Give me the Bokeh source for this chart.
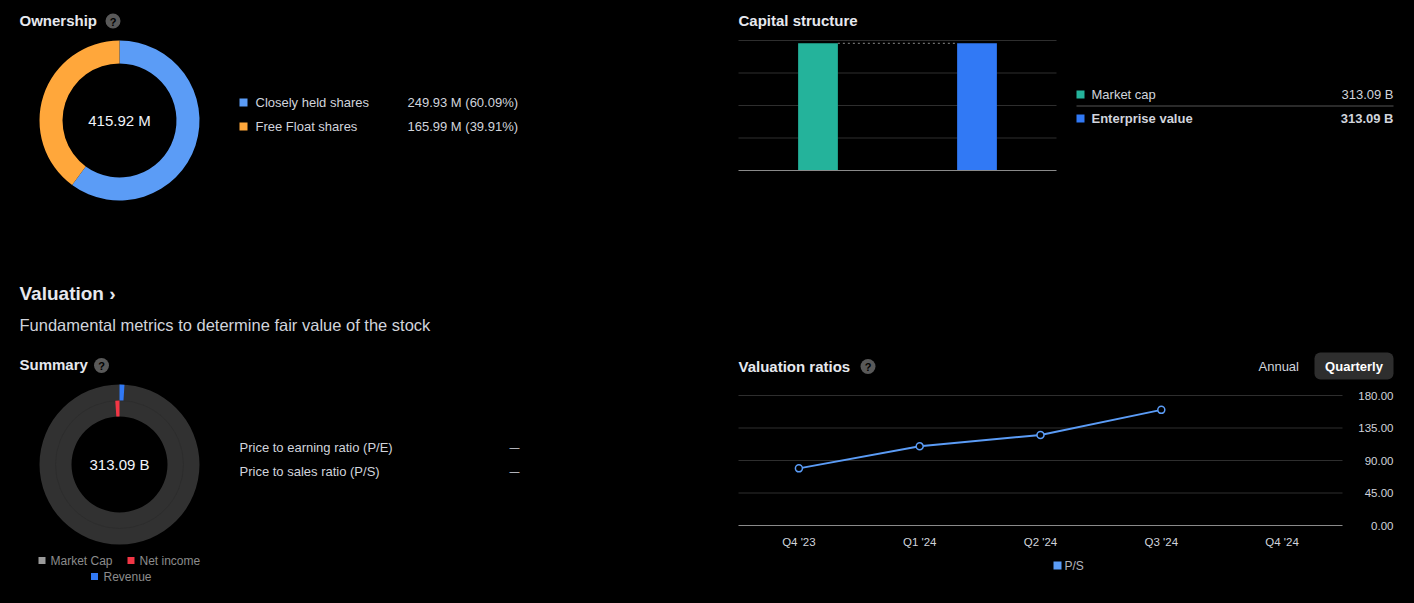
import math
from bokeh.plotting import figure
from bokeh.models import Range1d
from bokeh.core.properties import value
from bokeh.embed import file_html
from bokeh.resources import INLINE

# ---------------- data ----------------
own_labels = ["Closely held shares", "Free Float shares"]
own_values = [249.93, 165.99]          # millions of shares
own_colors = ["#5b9cf6", "#ffa73b"]

cap_labels = ["Market cap", "Enterprise value"]
cap_values = [313.09, 313.09]          # billions
cap_colors = ["#24b39b", "#3179f5"]
cap_ticks = [0, 80, 160, 240, 320]

sum_market_cap = 313.09                # billions
sum_revenue = 3.1                      # billions (estimated from slice)
sum_net_income = -3.3                  # billions (estimated from slice)
sum_legend = ["Market Cap", "Net income", "Revenue"]
sum_legend_colors = ["#9a9a9a", "#f23645", "#3179f5"]
ratio_labels = ["Price to earning ratio (P/E)", "Price to sales ratio (P/S)"]
ratio_values = ["—", "—"]

quarters = ["Q4 '23", "Q1 '24", "Q2 '24", "Q3 '24", "Q4 '24"]
ps_values = [79.1, 109.6, 125.4, 160.1, float("nan")]
ps_ticks = [0, 45, 90, 135, 180]

# ---------------- style ----------------
W, H = 1414, 603
BG = "#000000"
TXT = "#d1d4dc"
TITLE = "#e6e8ee"
DIM = "#8c8c8c"
FONT = "Liberation Sans"
GRID = "#2e2e2e"
BASE = "#8a8a8a"


def xmap(d0, d1, a, b):
    """x range so that data d0..d1 lands on canvas pixels a..b"""
    s = (d1 - d0) / (b - a)
    return Range1d(d0 - a * s, d0 + (W - a) * s)


def ymap(d0, d1, pb, pt):
    """y range so that data d0 lands on canvas pixel pb and d1 on pt (pixels counted downward)"""
    s = (d1 - d0) / (pb - pt)
    return Range1d(d0 - (H - pb) * s, d0 + pb * s)


p = figure(width=W, height=H, x_range=Range1d(0, W), y_range=Range1d(H, 0),
           x_axis_location=None, y_axis_location=None, toolbar_location=None,
           output_backend="svg", min_border=0, outline_line_color=None,
           background_fill_color=BG, border_fill_color=BG)
p.grid.visible = False
p.styles = {"background-color": BG}

# chart plot areas (data -> pixel areas)
p.extra_x_ranges = {"cap_x": xmap(0, len(cap_labels), 738, 1056),
                    "val_x": xmap(0, len(quarters), 738, 1342)}
p.extra_y_ranges = {"cap_y": ymap(cap_ticks[0], cap_ticks[-1], 170, 40),
                    "val_y": ymap(ps_ticks[0], ps_ticks[-1], 525, 395)}


def txt(x, y, s, size="13px", color=TXT, bold=False, align="left", **kw):
    p.text(x=[x] if not isinstance(x, list) else x, y=[y] if not isinstance(y, list) else y,
           text=[s] if not isinstance(s, list) else s, text_font=value(FONT), text_font_size=size,
           text_font_style="bold" if bold else "normal", text_color=color,
           text_align=align, text_baseline="middle", **kw)


def qicon(x, y):
    p.circle(x=[x], y=[y], radius=7.5, fill_color="#595959", line_color=None)
    txt(x, y + 0.5, "?", size="11px", color=BG, bold=True, align="center")


# ================= Ownership =================
txt(19, 20, "Ownership", size="15px", color=TITLE, bold=True)
qicon(112.5, 20.5)
own_total = sum(own_values)
start = math.pi / 2
for v, c in zip(own_values, own_colors):
    end = start - v / own_total * 2 * math.pi
    p.annular_wedge(x=[119], y=[120], inner_radius=57, outer_radius=80,
                    start_angle=[start], end_angle=[end], direction="clock",
                    fill_color=c, line_color=None)
    start = end
txt(119, 120, f"{own_total:.2f} M", size="15px", color="#f0f3fa", align="center")
for i, (lab, v, c) in enumerate(zip(own_labels, own_values, own_colors)):
    yy = 102 + 24 * i
    p.rect(x=[243], y=[yy], width=8, height=8, fill_color=c, line_color=None)
    txt(255, yy, lab)
    txt(407, yy, f"{v:.2f} M ({v / own_total * 100:.2f}%)")

# ================= Valuation header / Summary =================
txt(19, 293, "Valuation ›", size="19px", color=TITLE, bold=True)
txt(19, 324, "Fundamental metrics to determine fair value of the stock", size="16.5px", color=TXT)

txt(19, 364, "Summary", size="15px", color=TITLE, bold=True)
qicon(101, 365)
cx, cy = 119, 464
p.annulus(x=[cx], y=[cy], inner_radius=48, outer_radius=80, fill_color="#313131", line_color=None)
p.circle(x=[cx], y=[cy], radius=64, fill_color=None, line_color="#2d2d2d", line_width=1)
rev_ang = sum_revenue / sum_market_cap * 2 * math.pi
p.annular_wedge(x=[cx], y=[cy], inner_radius=64, outer_radius=80,
                start_angle=[math.pi / 2], end_angle=[math.pi / 2 - rev_ang], direction="clock",
                fill_color=sum_legend_colors[2], line_color=None)
ni_ang = abs(sum_net_income) / sum_market_cap * 2 * math.pi
p.annular_wedge(x=[cx], y=[cy], inner_radius=48, outer_radius=64,
                start_angle=[math.pi / 2], end_angle=[math.pi / 2 + ni_ang], direction="anticlock",
                fill_color=sum_legend_colors[1], line_color=None)
txt(cx, cy, f"{sum_market_cap:.2f} B", size="15px", color="#f0f3fa", align="center")

for i, (lab, vv) in enumerate(zip(ratio_labels, ratio_values)):
    yy = 447 + 23.5 * i
    txt(239, yy, lab)
    txt(519, yy, vv, size="10px", align="right")

leg_pos = [(41.5, 560, 50), (130.5, 560, 139), (94, 576, 103)]
for (sx, sy, tx), lab, c in zip(leg_pos, sum_legend, sum_legend_colors):
    p.rect(x=[sx], y=[sy], width=7, height=7, fill_color=c, line_color=None)
    txt(tx, sy, lab, size="12px", color=DIM)

# ================= Capital structure =================
txt(738, 20, "Capital structure", size="15px", color=TITLE, bold=True)
p.segment(x0=[738] * 4, x1=[1056] * 4, y0=cap_ticks[1:], y1=cap_ticks[1:],
          y_range_name="cap_y", line_color=GRID, line_width=1)
cap_pos = [i + 0.5 for i in range(len(cap_labels))]
p.vbar(x=cap_pos, top=cap_values, bottom=0, width=0.25, fill_color=cap_colors, line_color=None,
       x_range_name="cap_x", y_range_name="cap_y")
p.segment(x0=[cap_pos[0] + 0.125], y0=[cap_values[0]], x1=[cap_pos[1] - 0.125], y1=[cap_values[0]],
          line_color=BASE, line_dash="2 3", line_width=1, x_range_name="cap_x", y_range_name="cap_y")
p.segment(x0=[738], x1=[1056], y0=[cap_ticks[0]], y1=[cap_ticks[0]], y_range_name="cap_y",
          line_color=BASE, line_width=1.2)

for i, (lab, v, c) in enumerate(zip(cap_labels, cap_values, cap_colors)):
    yy = 94 + 24 * i
    p.rect(x=[1080], y=[yy], width=8, height=8, fill_color=c, line_color=None)
    txt(1091, yy, lab, bold=(i == 1))
    txt(1393, yy, f"{v:.2f} B", bold=(i == 1), align="right")
p.segment(x0=[1076], y0=[105.5], x1=[1393], y1=[105.5], line_color="#555555", line_width=1)

# ================= Valuation ratios =================
txt(738, 366, "Valuation ratios", size="15px", color=TITLE, bold=True)
qicon(867.5, 366)
txt(1258, 366, "Annual", size="13px", color=TXT)
p.quad(left=[1314], right=[1393], top=[352], bottom=[379], border_radius=6,
       fill_color="#2e2e2e", line_color=None)
txt(1353.5, 366, "Quarterly", size="13px", color="#ffffff", bold=True, align="center")

p.segment(x0=[738] * 4, x1=[1342] * 4, y0=ps_ticks[1:], y1=ps_ticks[1:],
          y_range_name="val_y", line_color=GRID, line_width=1)
p.segment(x0=[738], x1=[1342], y0=[ps_ticks[0]], y1=[ps_ticks[0]], y_range_name="val_y",
          line_color=BASE, line_width=1.2)
txt([1393] * len(ps_ticks), ps_ticks, [f"{t:.2f}" for t in ps_ticks], size="11.5px",
    align="right", y_range_name="val_y")
q_pos = [i + 0.5 for i in range(len(quarters))]
txt(q_pos, [541] * len(quarters), quarters, size="11.5px", align="center", x_range_name="val_x")
p.line(x=q_pos, y=ps_values, line_color="#5b9cf6", line_width=2,
       x_range_name="val_x", y_range_name="val_y")
p.scatter(x=q_pos, y=ps_values, size=7, fill_color=BG, line_color="#5b9cf6", line_width=1.5,
          x_range_name="val_x", y_range_name="val_y")

p.rect(x=[1057], y=[565], width=8, height=8, fill_color="#5b9cf6", line_color=None)
txt(1064, 565, "P/S", size="12px", color="#b2b5be")

open("out.html", "w").write(file_html(p, INLINE))
